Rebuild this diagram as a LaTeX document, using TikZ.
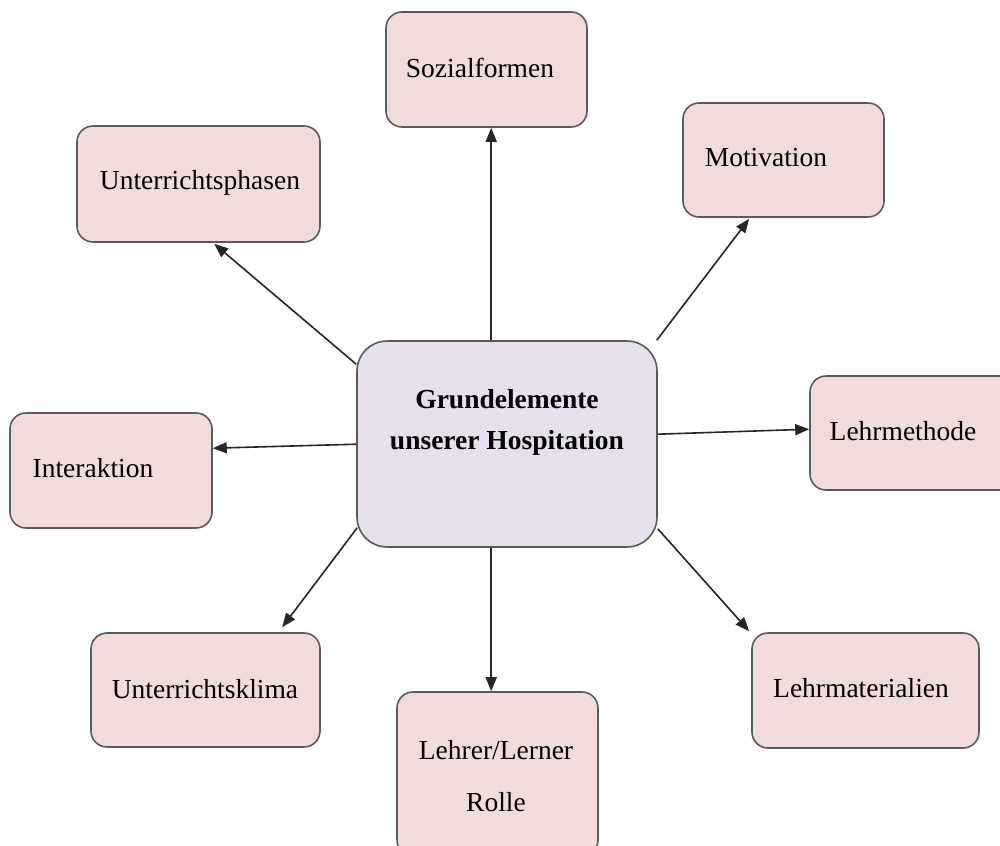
\documentclass[tikz,border=0pt]{standalone}
\usepackage{fontspec}
\setmainfont{Liberation Serif}
\usetikzlibrary{calc,arrows.meta}
\definecolor{pinkfill}{HTML}{F2DCDB}
\definecolor{lavfill}{HTML}{E5E0EC}
\definecolor{edgegray}{HTML}{5A5A5A}
\tikzset{
  box/.style={draw=edgegray, line width=1.6pt, fill=pinkfill, rounded corners=16pt, inner sep=0pt},
  hub/.style={draw=edgegray, line width=1.6pt, fill=lavfill, rounded corners=30pt, inner sep=0pt},
  lbl/.style={inner sep=0pt, font=\fontsize{27.5}{52}\selectfont, align=center},
  conn/.style={draw=black!85, line width=1.6pt, -{Triangle[length=14pt,width=11pt]}}
}
\begin{document}
\begin{tikzpicture}[x=1pt,y=-1pt]
\useasboundingbox (0,0) rectangle (1000,845);
% boxes
\node[box, minimum width=201pt, minimum height=115pt] (soz) at (486.5,69.5) {};
\node[box, minimum width=201pt, minimum height=114pt] (mot) at (783.5,160) {};
\node[box, minimum width=243pt, minimum height=116pt] (uph) at (198.5,184) {};
\node[hub, minimum width=300pt, minimum height=206pt] (c) at (507,444) {};
\node[box, minimum width=206pt, minimum height=114pt] (lm) at (913,433) {};
\node[box, minimum width=202pt, minimum height=115pt] (int) at (111,470.5) {};
\node[box, minimum width=229pt, minimum height=114pt] (ukl) at (205.5,690) {};
\node[box, minimum width=201pt, minimum height=164pt] (llr) at (497.5,774) {};
\node[box, minimum width=227pt, minimum height=115pt] (lmat) at (865.5,690.5) {};
% texts
\node[lbl] (tsoz) at (480,68) {Sozialformen};
\node[lbl] (tmot) at (766,158) {Motivation};
\node[lbl] (tuph) at (200,183) {Unterrichtsphasen};
\node[lbl, font=\fontsize{27.5}{41}\selectfont\bfseries] (tc) at (507,422) {Grundelemente\\unserer Hospitation};
\node[lbl] (tlm) at (903,431) {Lehrmethode};
\node[lbl] (tint) at (93,468) {Interaktion};
\node[lbl] (tukl) at (205,689) {Unterrichtsklima};
\node[lbl] (tllr) at (496,776) {Lehrer/Lerner\\Rolle};
\node[lbl] (tlmat) at (861,688) {Lehrmaterialien};
% connectors
\draw[conn] ($(c.north west)+(135,0)$) -- ($(soz.south west)+(106,0)$);
\draw[conn] ($(c.north east)+(-1,0)$) -- ($(mot.south west)+(67,1)$);
\draw[conn] ($(c.north west)+(0,24)$) -- ($(uph.south west)+(138,1)$);
\draw[conn] ($(c.north east)+(0,94)$) -- ($(lm.north west)+(0,54)$);
\draw[conn] ($(c.north west)+(0,104)$) -- ($(int.north east)+(0,36)$);
\draw[conn] ($(c.south west)+(1,-20)$) -- ($(ukl.north west)+(192,-5)$);
\draw[conn] ($(c.south west)+(135,0)$) -- ($(llr.north west)+(95,0)$);
\draw[conn] ($(c.south east)+(0,-19)$) -- ($(lmat.north west)+(-2,-1)$);
\end{tikzpicture}
\end{document}
